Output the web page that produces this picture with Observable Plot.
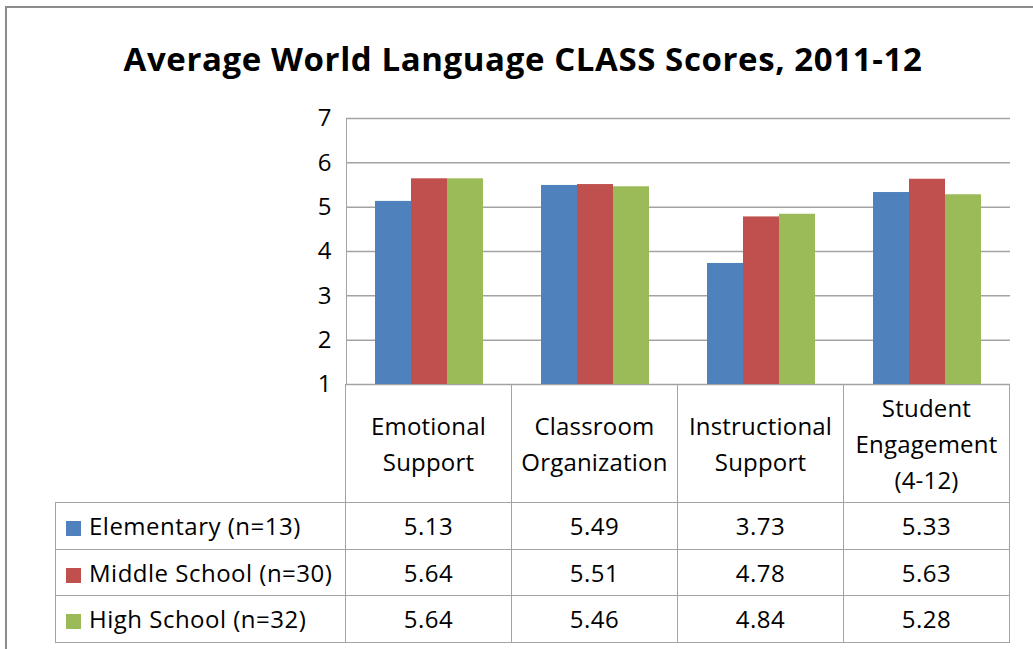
<!DOCTYPE html>
<html><head><meta charset="utf-8">
<script src="https://cdn.jsdelivr.net/npm/d3@7"></script>
<script src="https://cdn.jsdelivr.net/npm/@observablehq/plot@0.6"></script>
<style>
body{margin:0;background:#fff;font-family:"Open Sans",Lato,sans-serif;color:#000}
#wrap{position:relative;width:1033px;height:649px;overflow:hidden;background:#fff}
#frame{position:absolute;left:5px;top:6px;width:1100px;height:700px;border-left:2px solid #8c8c8c;border-top:2px solid #8c8c8c;box-sizing:border-box}
#title{position:absolute;left:0;width:1046px;top:36px;text-align:center;font-weight:bold;font-size:33px;white-space:nowrap;letter-spacing:0.6px}
#chart{position:absolute;left:0;top:0}
#tbl{position:absolute;border-collapse:collapse;font-size:24px;letter-spacing:0.5px;table-layout:fixed}
#tbl td{border:1px solid #a3a3a3;padding:0;text-align:center;vertical-align:middle;box-sizing:border-box}
#tbl td.blank{border-top:none;border-left:none}
#tbl td.lab{text-align:left;white-space:nowrap}
#tbl tr.hdr td{line-height:36px;letter-spacing:0.2px}
.sw{display:inline-block;width:15px;height:15px;margin-left:10px;margin-right:8px;vertical-align:-1px}
.bars text{fill:#000}
</style></head>
<body>
<div id="wrap">
  <div id="frame"></div>
  <div id="title">Average World Language CLASS Scores, 2011-12</div>
  <div id="chart"></div>
</div>
<script>
const categories = ["Emotional Support", "Classroom Organization", "Instructional Support", "Student Engagement (4-12)"];
const headerLines = [["Emotional", "Support"], ["Classroom", "Organization"], ["Instructional", "Support"], ["Student", "Engagement", "(4-12)"]];
const series = ["Elementary (n=13)", "Middle School (n=30)", "High School (n=32)"];
const colors = ["#4F81BD", "#C0504D", "#9BBB59"];
const elementary = [5.13, 5.49, 3.73, 5.33];
const middle = [5.64, 5.51, 4.78, 5.63];
const high = [5.64, 5.46, 4.84, 5.28];
const valueLabels = [["5.13","5.49","3.73","5.33"],["5.64","5.51","4.78","5.63"],["5.64","5.46","4.84","5.28"]];
const yTicks = [1, 2, 3, 4, 5, 6, 7];

const seriesValues = [elementary, middle, high];
const data = categories.flatMap((c, i) => series.map((s, j) => ({category: c, series: s, value: seriesValues[j][i]})));

const chart = Plot.plot({
  width: 1033,
  height: 390,
  marginLeft: 345,
  marginRight: 23,
  marginTop: 118,
  marginBottom: 6,
  className: "bars",
  style: {background: "transparent", fontFamily: "'Open Sans', Lato, sans-serif", fontSize: "24px", color: "#a3a3a3", overflow: "visible"},
  fx: {domain: categories, padding: 0, axis: null},
  x: {domain: series, paddingInner: 0, paddingOuter: 0.76, axis: null},
  y: {domain: [1, 7], ticks: yTicks, tickSize: 0, tickPadding: 15, line: true, label: null, tickFormat: d => String(d)},
  color: {domain: series, range: colors},
  marks: [
    Plot.ruleY(yTicks, {stroke: "#a3a3a3", strokeWidth: 1.5}),
    Plot.barY(data, {fx: "category", x: "series", y1: 1, y2: "value", fill: "series"})
  ]
});
document.getElementById("chart").appendChild(chart);

// Data table built from the chart's own facet and y scales
const fx = chart.scale("fx");
const ys = chart.scale("y");
const colW = fx.bandwidth != null ? fx.bandwidth : (fx.range[1] - fx.range[0]) / categories.length;
const plotLeft = fx.range[0];
const tableTop = ys.range[0];
const tableLeft = 55;

const tbl = document.createElement("table");
tbl.id = "tbl";
tbl.style.left = tableLeft + "px";
tbl.style.top = tableTop + "px";
tbl.style.width = (plotLeft - tableLeft + colW * categories.length) + "px";
const cg = document.createElement("colgroup");
const c0 = document.createElement("col"); c0.style.width = (plotLeft - tableLeft) + "px"; cg.appendChild(c0);
categories.forEach(() => { const c = document.createElement("col"); c.style.width = colW + "px"; cg.appendChild(c); });
tbl.appendChild(cg);

const hr = document.createElement("tr"); hr.className = "hdr"; hr.style.height = "118px";
const blank = document.createElement("td"); blank.className = "blank"; hr.appendChild(blank);
headerLines.forEach(lines => { const td = document.createElement("td"); td.innerHTML = lines.join("<br>"); hr.appendChild(td); });
tbl.appendChild(hr);

series.forEach((s, j) => {
  const tr = document.createElement("tr"); tr.style.height = "46.5px";
  const lab = document.createElement("td"); lab.className = "lab";
  const sw = document.createElement("span"); sw.className = "sw"; sw.style.background = colors[j];
  lab.appendChild(sw); lab.appendChild(document.createTextNode(s));
  tr.appendChild(lab);
  valueLabels[j].forEach(v => { const td = document.createElement("td"); td.textContent = v; tr.appendChild(td); });
  tbl.appendChild(tr);
});
document.getElementById("wrap").appendChild(tbl);
</script>
</body></html>
